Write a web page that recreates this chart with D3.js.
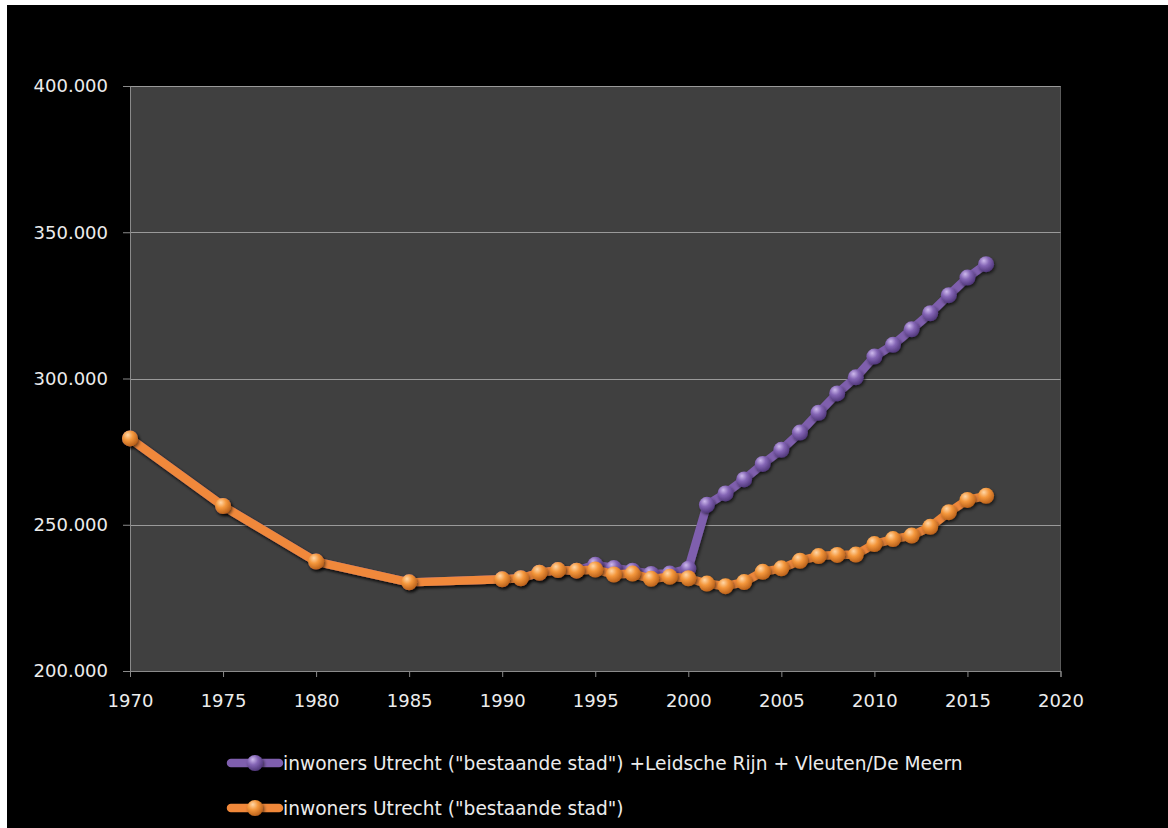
<!DOCTYPE html>
<html>
<head>
<meta charset="utf-8">
<script src="https://cdn.jsdelivr.net/npm/d3@7/dist/d3.min.js"></script>
<style>
  html, body { margin: 0; padding: 0; background: #ffffff; }
  svg { display: block; }
  text { font-family: "DejaVu Sans", Verdana, sans-serif; fill: #ececec; }
</style>
</head>
<body>
<svg id="chart" width="1168" height="828"></svg>
<script>
// Population of Utrecht, 1970–2016
const years = [1970, 1975, 1980, 1985, 1990, 1991, 1992, 1993, 1994, 1995, 1996, 1997, 1998, 1999,
  2000, 2001, 2002, 2003, 2004, 2005, 2006, 2007, 2008, 2009, 2010, 2011, 2012, 2013, 2014, 2015, 2016];

// existing city + Leidsche Rijn + Vleuten/De Meern
const totalCity = [279500, 256400, 237400, 230300, 231350, 231700, 233600, 234500, 234300, 236300,
  235200, 234300, 233200, 233300, 235000, 256800, 260700, 265500, 270800, 275600, 281500, 288300,
  294900, 300400, 307500, 311500, 316800, 322300, 328500, 334500, 339100];

// existing city only
const existingCity = [279500, 256400, 237400, 230300, 231350, 231700, 233600, 234500, 234300, 234700,
  233000, 233300, 231500, 232200, 231700, 229900, 229000, 230400, 233900, 235100, 237700, 239300,
  239700, 239800, 243400, 245100, 246300, 249300, 254300, 258500, 259900];

const seriesNames = [
  'inwoners Utrecht ("bestaande stad") +Leidsche Rijn + Vleuten/De Meern',
  'inwoners Utrecht ("bestaande stad")'
];

const xTicks = [1970, 1975, 1980, 1985, 1990, 1995, 2000, 2005, 2010, 2015, 2020];
const yTicks = [200000, 250000, 300000, 350000, 400000];

const svg = d3.select("#chart");
const W = 1168, H = 828;

// black chart canvas
svg.append("rect").attr("x", 7).attr("y", 5).attr("width", W - 7).attr("height", H - 5).attr("fill", "#000000");

const plot = { left: 130, right: 1060.5, top: 86, bottom: 671 };

const x = d3.scaleLinear().domain([1970, 2020]).range([plot.left, plot.right]);
const y = d3.scaleLinear().domain([200000, 400000]).range([plot.bottom, plot.top]);

const nl = d3.formatLocale({ decimal: ",", thousands: ".", grouping: [3], currency: ["€", ""] });
const fmt = nl.format(",.0f");

const defs = svg.append("defs");

function sphereGradient(id, light, mid, dark) {
  const g = defs.append("radialGradient").attr("id", id)
    .attr("cx", "0.38").attr("cy", "0.32").attr("r", "0.7").attr("fx", "0.36").attr("fy", "0.28");
  g.append("stop").attr("offset", "0%").attr("stop-color", light);
  g.append("stop").attr("offset", "45%").attr("stop-color", mid);
  g.append("stop").attr("offset", "100%").attr("stop-color", dark);
}
sphereGradient("ballOrange", "#ffd7a8", "#f4973c", "#b9601a");
sphereGradient("ballPurple", "#cdb9ec", "#8566b6", "#4f3679");

const shadow = defs.append("filter").attr("id", "shadow")
  .attr("x", "-50%").attr("y", "-50%").attr("width", "200%").attr("height", "200%");
shadow.append("feDropShadow").attr("dx", 1.5).attr("dy", 2).attr("stdDeviation", 1.5)
  .attr("flood-color", "#000").attr("flood-opacity", 0.55);

// plot background
svg.append("rect")
  .attr("x", plot.left).attr("y", plot.top)
  .attr("width", plot.right - plot.left).attr("height", plot.bottom - plot.top)
  .attr("fill", "#404040");
svg.append("line")
  .attr("x1", plot.right).attr("x2", plot.right).attr("y1", plot.top).attr("y2", plot.bottom)
  .attr("stroke", "#5a5a5a").attr("stroke-width", 1);

// horizontal gridlines
svg.append("g")
  .selectAll("line")
  .data(yTicks.filter(d => d > 200000))
  .join("line")
  .attr("x1", plot.left).attr("x2", plot.right)
  .attr("y1", d => Math.round(y(d)) + 0.5).attr("y2", d => Math.round(y(d)) + 0.5)
  .attr("stroke", "#9a9a9a").attr("stroke-width", 1);

// y axis
const yAxis = svg.append("g")
  .attr("transform", `translate(${plot.left},0)`)
  .call(d3.axisLeft(y).tickValues(yTicks).tickFormat(fmt).tickSize(7).tickPadding(15));
yAxis.select(".domain").attr("stroke", "#8a8a8a");
yAxis.selectAll(".tick line").attr("stroke", "#8a8a8a");
yAxis.selectAll("text").style("font-size", "18px").attr("fill", "#ececec");

// x axis
const xAxis = svg.append("g")
  .attr("transform", `translate(0,${plot.bottom})`)
  .call(d3.axisBottom(x).tickValues(xTicks).tickFormat(d3.format("d")).tickSize(6).tickPadding(17));
xAxis.select(".domain").attr("stroke", "#8a8a8a");
xAxis.selectAll(".tick line").attr("stroke", "#8a8a8a");
xAxis.selectAll("text").style("font-size", "18px").attr("fill", "#ececec");

const line = d3.line().x(d => x(d[0])).y(d => y(d[1]));

const series = [
  { name: seriesNames[0], values: totalCity, stroke: "#7f5fae", ball: "url(#ballPurple)" },
  { name: seriesNames[1], values: existingCity, stroke: "#f0883a", ball: "url(#ballOrange)" }
];

series.forEach(s => {
  const pts = years.map((yr, i) => [yr, s.values[i]]);
  const g = svg.append("g");
  g.append("path")
    .datum(pts)
    .attr("d", line)
    .attr("fill", "none")
    .attr("stroke", s.stroke)
    .attr("stroke-width", 8.5)
    .attr("stroke-linejoin", "round")
    .attr("stroke-linecap", "round")
    .attr("filter", "url(#shadow)");
  g.selectAll("circle")
    .data(pts)
    .join("circle")
    .attr("cx", d => x(d[0]))
    .attr("cy", d => y(d[1]))
    .attr("r", 8)
    .attr("fill", s.ball)
    .attr("filter", "url(#shadow)");
});

// legend
const legendRows = [763, 808];
series.forEach((s, i) => {
  const ly = legendRows[i];
  const g = svg.append("g");
  g.append("line")
    .attr("x1", 231).attr("x2", 279).attr("y1", ly).attr("y2", ly)
    .attr("stroke", s.stroke).attr("stroke-width", 8.5).attr("stroke-linecap", "round");
  g.append("circle")
    .attr("cx", 255).attr("cy", ly).attr("r", 8)
    .attr("fill", s.ball).attr("filter", "url(#shadow)");
  g.append("text")
    .attr("x", 283).attr("y", ly)
    .attr("dominant-baseline", "central")
    .style("font-size", "18.6px")
    .text(s.name);
});
</script>
</body>
</html>
